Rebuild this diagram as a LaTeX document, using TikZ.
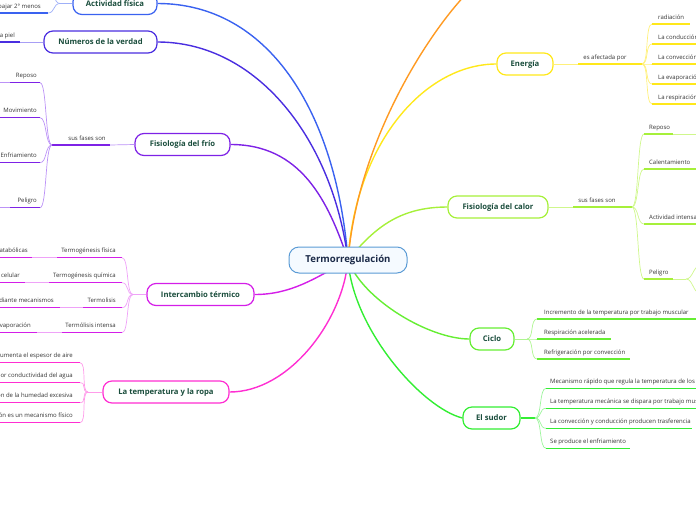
\documentclass[tikz,border=0pt]{standalone}
\usepackage{fontspec}
\setmainfont{Open Sans}
\usetikzlibrary{backgrounds}
\definecolor{cblue}{HTML}{5B9BD5}
\definecolor{cfill}{HTML}{F5FAFF}
\definecolor{ctext}{HTML}{1B2A48}
\definecolor{mtext}{HTML}{1A4D3C}
\definecolor{afc}{HTML}{3A62F0}
\definecolor{afl}{HTML}{9FB0F8}
\definecolor{nvc}{HTML}{4A2EE0}
\definecolor{nvl}{HTML}{A89EF5}
\definecolor{ffc}{HTML}{7E22E6}
\definecolor{ffl}{HTML}{BC92F7}
\definecolor{itc}{HTML}{D41EE8}
\definecolor{itl}{HTML}{EFA2F8}
\definecolor{lrc}{HTML}{FF2ED2}
\definecolor{lrl}{HTML}{FF9CEA}
\definecolor{enc}{HTML}{FFE81A}
\definecolor{enl}{HTML}{FFF07A}
\definecolor{fcc}{HTML}{A6F03A}
\definecolor{fcl}{HTML}{CFF78C}
\definecolor{cic}{HTML}{66EE33}
\definecolor{cil}{HTML}{AEF590}
\definecolor{esc}{HTML}{33EE33}
\definecolor{esl}{HTML}{9CF59C}
\definecolor{orc}{HTML}{FF9A22}
\definecolor{leaftx}{HTML}{333333}
\tikzset{
  central/.style={draw=cblue, line width=1pt, fill=cfill, rounded corners=10pt,
    minimum width=118pt, minimum height=26pt, inner sep=0pt,
    text=ctext, font=\fontsize{9.6}{11}\selectfont\bfseries},
  mainnode/.style={draw=#1, line width=1.2pt, fill=white, rounded corners=9pt,
    minimum height=22pt, inner sep=0pt, text=mtext,
    font=\fontsize{7.7}{9}\selectfont\bfseries},
  leaf/.style={inner sep=0pt, text=leaftx, font=\fontsize{6}{7}\selectfont},
  ul/.style={line width=1.5pt},
  conn/.style={line width=0.7pt},
  branch/.style={line width=1.4pt},
}
\newcommand\rleaf[7]{%
  \coordinate (#1) at (#3,#5);
  \draw[ul,#2] (#1) -- (#4,#5);
  \node[leaf,anchor=base west] (#1t) at (#6,#5-5) {#7};}
\newcommand\lleaf[7]{%
  \coordinate (#1) at (#3,#5);
  \draw[ul,#2] (#1) -- (#4,#5);
  \node[leaf,anchor=base east] (#1t) at (#6,#5-5) {#7};}
\newcommand\rcurve[3]{\draw[conn,#1] (#2) .. controls +(7,0) and +(-7,0) .. (#3);}
\newcommand\lcurve[3]{\draw[conn,#1] (#2) .. controls +(-7,0) and +(7,0) .. (#3);}
\begin{document}
\begin{tikzpicture}[x=1pt,y=-1pt]
\useasboundingbox (0,0) rectangle (696,520);
\clip (0,0) rectangle (696,520);
% central and main nodes
\node[central] (c) at (348,260) {Termorregulación};
\node[mainnode=afc, minimum width=84pt] (af) at (115,3.5) {Actividad física};
\node[mainnode=nvc, minimum width=113pt] (nv) at (100.5,42) {Números de la verdad};
\node[mainnode=ffc, minimum width=95pt] (ff) at (182.5,144.5) {Fisiología del frío};
\node[mainnode=itc, minimum width=107pt] (it) at (200.5,294.5) {Intercambio térmico};
\node[mainnode=lrc, minimum width=126pt] (lr) at (166,392) {La temperatura y la ropa};
\node[mainnode=enc, minimum width=56pt] (en) at (525,64) {Energía};
\node[mainnode=fcc, minimum width=100pt] (fc) at (498,207) {Fisiología del calor};
\node[mainnode=cic, minimum width=44pt] (ci) at (492,339) {Ciclo};
\node[mainnode=esc, minimum width=57pt] (es) at (491.5,418) {El sudor};
\coordinate (orng) at (470,-10);
% main connectors
\begin{scope}[on background layer]
\draw[branch,afc] (af.east) .. controls +(110,0) and +(-12,-150) .. (c.center);
\draw[branch,nvc] (nv.east) .. controls +(100,0) and +(-15,-120) .. (c.center);
\draw[branch,ffc] (ff.east) .. controls +(70,0) and +(-20,-60) .. (c.center);
\draw[branch,itc] (it.east) .. controls +(35,0) and +(-35,20) .. (c.center);
\draw[branch,lrc] (lr.east) .. controls +(60,0) and +(-5,60) .. (c.center);
\draw[branch,enc] (en.west) .. controls +(-70,0) and +(8,-120) .. (c.center);
\draw[branch,fcc] (fc.west) .. controls +(-50,0) and +(25,-30) .. (c.center);
\draw[branch,cic] (ci.west) .. controls +(-40,0) and +(15,40) .. (c.center);
\draw[branch,esc] (es.west) .. controls +(-40,-10) and +(5,70) .. (c.center);
\draw[branch,orc] (c.center) .. controls +(10,-120) and +(-40,40) .. (orng);
\end{scope}
% Actividad fisica
\coordinate (afh) at (60,3.5);
\coordinate (afup) at (48,-12);
\draw[conn,afl] (af.west) -- (afh);
\lcurve{afl}{afh}{afup}
\lleaf{af1}{afc}{48}{-5}{13}{41}{bajar 2° menos}
\lcurve{afl}{afh}{af1}
% Numeros de la verdad
\lleaf{nv1}{nvc}{20}{-5}{42}{15}{la piel}
\draw[conn,nvl] (nv.west) -- (nv1);
% Fisiologia del frio
\coordinate (ffa) at (110,145);
\coordinate (ffh) at (52,145);
\draw[conn,ffl] (ff.west) -- (ffa);
\draw[ul,ffc] (ffa) -- (ffh);
\node[leaf,anchor=base] (ffl1) at (87,140) {sus fases son};
\lleaf{ff1}{ffc}{40}{10}{82.7}{37}{Reposo}
\lleaf{ff2}{ffc}{40}{-5}{117.7}{37}{Movimiento}
\lleaf{ff3}{ffc}{40}{-5}{162.7}{37}{Enfriamiento}
\lleaf{ff4}{ffc}{40}{10}{207.7}{37}{Peligro}
\coordinate (ff1x) at (-5,82.7);
\coordinate (ff4x) at (-5,207.7);
\draw[conn,ffl] (10,82.7) -- (ff1x);
\draw[conn,ffl] (10,207.7) -- (ff4x);
\foreach \n in {ff1,ff2,ff3,ff4}{\lcurve{ffl}{ffh}{\n}}
% Intercambio termico
\coordinate (ith) at (133,294.5);
\draw[conn,itl] (it.west) -- (ith);
\lleaf{it1}{itc}{122}{57}{257.7}{116}{Termogénesis física}
\lleaf{it2}{itc}{122}{49}{282.7}{116}{Termogénesis química}
\lleaf{it3}{itc}{122}{83}{307.7}{116}{Termolisis}
\lleaf{it4}{itc}{122}{62}{332.7}{116}{Termólisis intensa}
\foreach \n in {it1,it2,it3,it4}{\lcurve{itl}{ith}{\n}}
\lleaf{it1a}{itc}{32}{-5}{257.7}{28}{catabólicas}
\lleaf{it2a}{itc}{25}{-5}{282.7}{20}{celular}
\lleaf{it3a}{itc}{60}{-5}{307.7}{54}{mediante mecanismos}
\lleaf{it4a}{itc}{37}{-5}{332.7}{31}{evaporación}
\draw[conn,itl] (57,257.7) -- (it1a);
\draw[conn,itl] (49,282.7) -- (it2a);
\draw[conn,itl] (83,307.7) -- (it3a);
\draw[conn,itl] (62,332.7) -- (it4a);
% La temperatura y la ropa
\coordinate (lrh) at (88,392);
\draw[conn,lrl] (lr.west) -- (lrh);
\lleaf{lr1}{lrc}{80}{-5}{362.7}{73}{Aumenta el espesor de aire}
\lleaf{lr2}{lrc}{80}{-5}{382.7}{73}{por conductividad del agua}
\lleaf{lr3}{lrc}{80}{-5}{402.7}{73}{ción de la humedad excesiva}
\lleaf{lr4}{lrc}{80}{-5}{422.7}{73}{ción es un mecanismo físico}
\foreach \n in {lr1,lr2,lr3,lr4}{\lcurve{lrl}{lrh}{\n}}
% Energia
\coordinate (ena) at (578,64);
\coordinate (enh) at (642,64);
\draw[conn,enl] (en.east) -- (ena);
\draw[ul,enc] (ena) -- (enh);
\node[leaf,anchor=base] (enl1) at (605,59) {es afectada por};
\rleaf{en1}{enc}{652}{690}{24}{658}{radiación}
\rleaf{en2}{enc}{652}{700}{44}{658}{La conducción}
\rleaf{en3}{enc}{652}{700}{64}{658}{La convección}
\rleaf{en4}{enc}{652}{700}{84}{658}{La evaporación}
\rleaf{en5}{enc}{652}{700}{104}{658}{La respiración}
\foreach \n in {en1,en2,en3,en4,en5}{\rcurve{enl}{enh}{\n}}
% Fisiologia del calor
\coordinate (fca) at (573,207);
\coordinate (fch) at (632,207);
\draw[conn,fcl] (fc.east) -- (fca);
\draw[ul,fcc] (fca) -- (fch);
\node[leaf,anchor=base] (fcl1) at (597,202) {sus fases son};
\rleaf{fc1}{fcc}{644}{673}{134}{649}{Reposo}
\rleaf{fc2}{fcc}{644}{700}{169}{649}{Calentamiento}
\rleaf{fc3}{fcc}{644}{700}{224}{649}{Actividad intensa}
\rleaf{fc4}{fcc}{644}{673}{279}{649}{Peligro}
\foreach \n in {fc1,fc2,fc3,fc4}{\rcurve{fcl}{fch}{\n}}
\coordinate (fc1x) at (700,134);
\draw[conn,fcl] (673,134) -- (fc1x);
\coordinate (fc4h) at (686,279);
\coordinate (fc4u) at (700,266);
\coordinate (fc4d) at (700,293);
\draw[conn,fcl] (673,279) -- (fc4h);
\rcurve{fcl}{fc4h}{fc4u}
\rcurve{fcl}{fc4h}{fc4d}
% Ciclo
\coordinate (cih) at (527,339);
\draw[conn,cil] (ci.east) -- (cih);
\rleaf{ci1}{cic}{537}{700}{319}{544}{Incremento de la temperatura por trabajo muscular}
\rleaf{ci2}{cic}{537}{611}{339}{544}{Respiración acelerada}
\rleaf{ci3}{cic}{537}{630}{359}{544}{Refrigeración por convección}
\foreach \n in {ci1,ci2,ci3}{\rcurve{cil}{cih}{\n}}
% El sudor
\coordinate (esh) at (535,418);
\draw[ul,esc] (es.east) -- (esh);
\rleaf{es1}{esc}{546}{700}{388.3}{550}{Mecanismo rápido que regula la temperatura de los}
\rleaf{es2}{esc}{546}{700}{408.3}{550}{La temperatura mecánica se dispara por trabajo muscular}
\rleaf{es3}{esc}{546}{692}{428.3}{550}{La convección y conducción producen trasferencia}
\rleaf{es4}{esc}{546}{630}{448.3}{550}{Se produce el enfriamiento}
\foreach \n in {es1,es2,es3,es4}{\rcurve{esl}{esh}{\n}}
\end{tikzpicture}
\end{document}
